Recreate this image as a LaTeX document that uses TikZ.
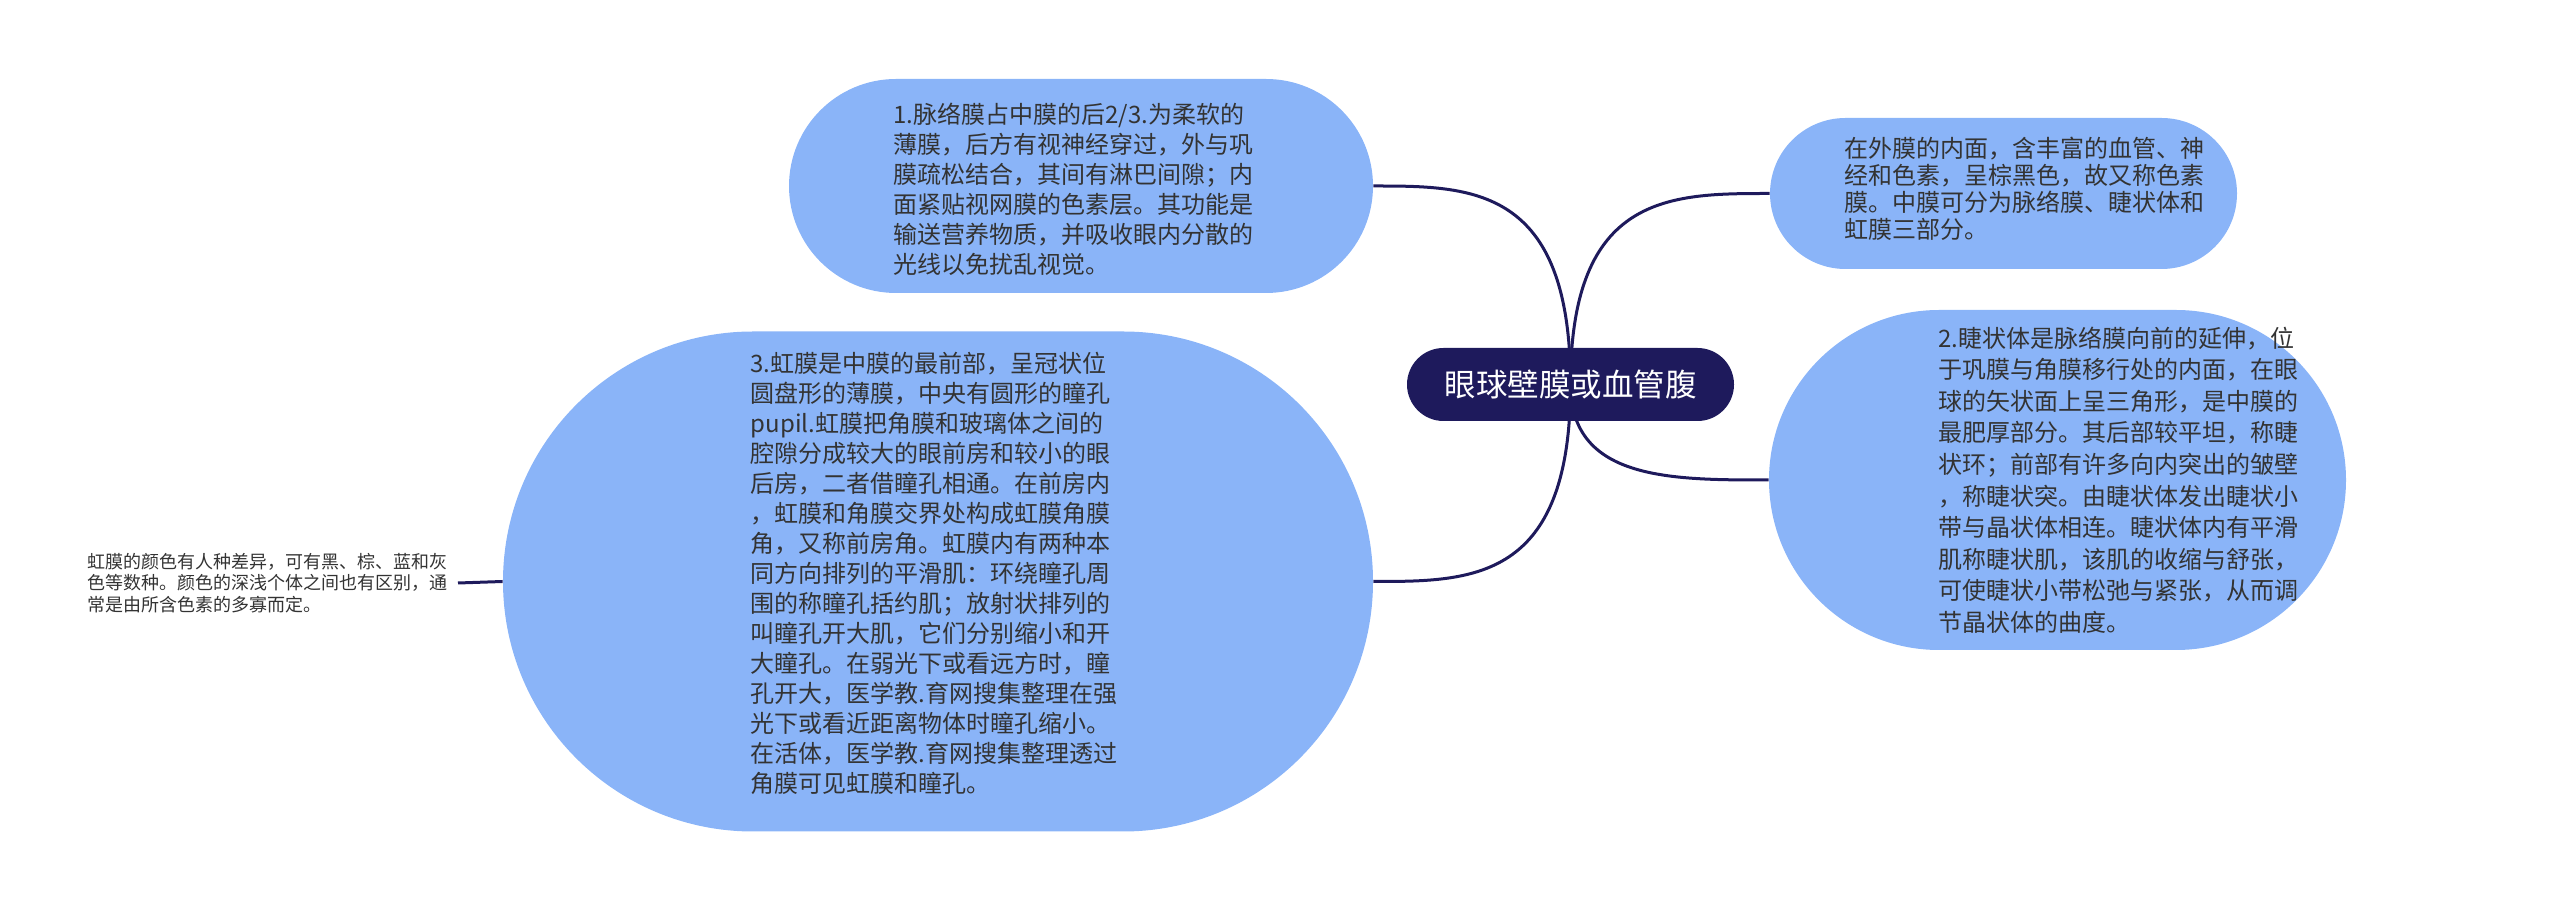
\documentclass[tikz,border=0pt]{standalone}
\usepackage{fontspec}
\setmainfont{Noto Sans CJK SC}
\usetikzlibrary{calc,backgrounds}
\definecolor{rootnavy}{HTML}{1E1A5C}
\definecolor{topicblue}{HTML}{8AB4F8}
\definecolor{textgray}{HTML}{333333}

\begin{document}
\begin{tikzpicture}[x=0.5pt,y=-0.5pt,
    root/.style={rectangle,fill=rootnavy,text=white,
        font=\fontsize{15.75pt}{19pt}\selectfont,
        minimum width=163.5pt,minimum height=36.5pt,rounded corners=18.25pt},
    topic/.style={rectangle,fill=topicblue},
    topictext/.style={text=textgray,align=left,inner sep=0pt,
        font=\fontsize{12pt}{#1}\selectfont},
    leaf/.style={text=textgray,align=left,inner sep=5pt,
        font=\fontsize{9pt}{10.85pt}\selectfont},
    branch/.style={draw=rootnavy,line width=1.5pt}]
        \useasboundingbox (0,0) rectangle (2560,913);
        %\draw[very thin,color=gray] (0,0) grid[step=100] (2560,913);
        \node[root] (root) at (1570.5,384.5) {眼球壁膜或血管腹};
        \node[topic,minimum width=292pt,minimum height=107pt,rounded corners=53.5pt,
            label={[topictext=15pt,xshift=-3.75pt,yshift=-1.5pt]center:{1.脉络膜占中膜的后2/3.为柔软的\\薄膜，后方有视神经穿过，外与巩\\膜疏松结合，其间有淋巴间隙；内\\面紧贴视网膜的色素层。其功能是\\输送营养物质，并吸收眼内分散的\\光线以免扰乱视觉。}}]
            (choroid) at (1081,186) {};
        \node[topic,minimum width=233.5pt,minimum height=75.5pt,rounded corners=37.75pt,
            label={[topictext=13.5pt,xshift=10.25pt,yshift=2.5pt]center:{在外膜的内面，含丰富的血管、神\\经和色素，呈棕黑色，故又称色素\\膜。中膜可分为脉络膜、睫状体和\\虹膜三部分。}}]
            (pigment) at (2003.5,193.5) {};
        \node[topic,minimum width=288.5pt,minimum height=170pt,rounded corners=85pt,
            label={[topictext=15.8pt,xshift=30.25pt]center:{2.睫状体是脉络膜向前的延伸，位\\于巩膜与角膜移行处的内面，在眼\\球的矢状面上呈三角形，是中膜的\\最肥厚部分。其后部较平坦，称睫\\状环；前部有许多向内突出的皱壁\\，称睫状突。由睫状体发出睫状小\\带与晶状体相连。睫状体内有平滑\\肌称睫状肌，该肌的收缩与舒张，\\可使睫状小带松弛与紧张，从而调\\节晶状体的曲度。}}]
            (ciliary) at (2057.5,480) {};
        \node[topic,minimum width=435pt,minimum height=250pt,rounded corners=125pt,
            label={[topictext=15pt,xshift=-2pt,yshift=4pt]center:{3.虹膜是中膜的最前部，呈冠状位\\圆盘形的薄膜，中央有圆形的瞳孔\\pupil.虹膜把角膜和玻璃体之间的\\腔隙分成较大的眼前房和较小的眼\\后房，二者借瞳孔相通。在前房内\\，虹膜和角膜交界处构成虹膜角膜\\角，又称前房角。虹膜内有两种本\\同方向排列的平滑肌：环绕瞳孔周\\围的称瞳孔括约肌；放射状排列的\\叫瞳孔开大肌，它们分别缩小和开\\大瞳孔。在弱光下或看远方时，瞳\\孔开大，医学教.育网搜集整理在强\\光下或看近距离物体时瞳孔缩小。\\在活体，医学教.育网搜集整理透过\\角膜可见虹膜和瞳孔。}}]
            (iris) at (938,581.5) {};
        \node[leaf,anchor=east] (irisleaf) at (458,583) {虹膜的颜色有人种差异，可有黑、棕、蓝和灰\\色等数种。颜色的深浅个体之间也有区别，通\\常是由所含色素的多寡而定。};
        \begin{scope}[on background layer]
            \draw[branch] (root.center) .. controls (root.center |- choroid.east) and ($(root.center |- choroid.east)!.5!(choroid.east)$) .. (choroid.east);
            \draw[branch] (root.center) .. controls (root.center |- pigment.west) and ($(root.center |- pigment.west)!.5!(pigment.west)$) .. (pigment.west);
            \draw[branch] (root.center) .. controls (root.center |- ciliary.west) and ($(root.center |- ciliary.west)!.5!(ciliary.west)$) .. (ciliary.west);
            \draw[branch] (root.center) .. controls (root.center |- iris.east) and ($(root.center |- iris.east)!.5!(iris.east)$) .. (iris.east);
            \draw[branch] (iris.west) -- (irisleaf.east);
        \end{scope}
    \end{tikzpicture}
\end{document}
